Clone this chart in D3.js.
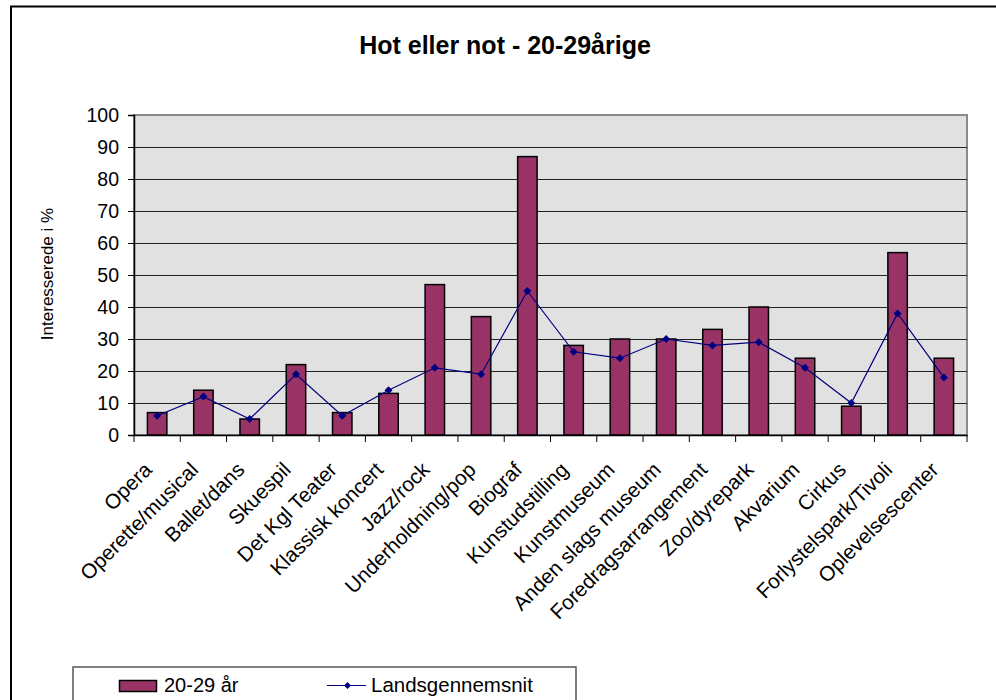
<!DOCTYPE html>
<html>
<head>
<meta charset="utf-8">
<script src="https://cdn.jsdelivr.net/npm/d3@7"></script>
<style>
  html, body { margin: 0; padding: 0; background: #fff; }
  svg { display: block; font-family: "Liberation Sans", Arial, sans-serif; }
</style>
</head>
<body>
<svg id="chart" width="996" height="700"></svg>
<script>
const categories = ["Opera", "Operette/musical", "Ballet/dans", "Skuespil", "Det Kgl Teater",
  "Klassisk koncert", "Jazz/rock", "Underholdning/pop", "Biograf", "Kunstudstilling",
  "Kunstmuseum", "Anden slags museum", "Foredragsarrangement", "Zoo/dyrepark", "Akvarium",
  "Cirkus", "Forlystelspark/Tivoli", "Oplevelsescenter"];
const ageGroupValues = [7, 14, 5, 22, 7, 13, 47, 37, 87, 28, 30, 30, 33, 40, 24, 9, 57, 24];
const nationalAverage = [6, 12, 5, 19, 6, 14, 21, 19, 45, 26, 24, 30, 28, 29, 21, 10, 38, 18];
const yTicks = [0, 10, 20, 30, 40, 50, 60, 70, 80, 90, 100];
const seriesNames = ["20-29 år", "Landsgennemsnit"];
const titleText = "Hot eller not - 20-29årige";
const yAxisTitle = "Interesserede i %";

const svg = d3.select("#chart");
const plot = { left: 134, top: 115, right: 967, bottom: 435 };

// outer chart border
svg.append("rect").attr("x", 11).attr("y", 6.5).attr("width", 1000).attr("height", 800)
  .attr("fill", "#fff").attr("stroke", "#000").attr("stroke-width", 2);

const x = d3.scaleBand().domain(categories).range([plot.left, plot.right]).padding(0);
const y = d3.scaleLinear().domain([0, 100]).range([plot.bottom, plot.top]);

// plot area
svg.append("rect").attr("x", plot.left).attr("y", plot.top)
  .attr("width", plot.right - plot.left).attr("height", plot.bottom - plot.top)
  .attr("fill", "#e1e1e1").attr("stroke", "#8a8a8a").attr("stroke-width", 2);

// gridlines
svg.append("g").selectAll("line").data(yTicks.filter(d => d > 0 && d < 100)).join("line")
  .attr("x1", plot.left).attr("x2", plot.right)
  .attr("y1", d => Math.round(y(d)) + 0.5).attr("y2", d => Math.round(y(d)) + 0.5)
  .attr("stroke", "#222").attr("stroke-width", 1);

// y axis
const yAxis = d3.axisLeft(y).tickValues(yTicks).tickSize(6).tickPadding(9);
const gy = svg.append("g").attr("transform", `translate(${plot.left},0)`).call(yAxis);
gy.select(".domain").attr("stroke", "#000").attr("stroke-width", 1.5);
gy.selectAll(".tick line").attr("stroke", "#000");
gy.selectAll(".tick text").attr("font-size", 19.5).attr("fill", "#000")
  .attr("font-family", "Liberation Sans, Arial, sans-serif");

// bars
const barW = x.bandwidth() * 0.42;
svg.append("g").selectAll("rect").data(categories).join("rect")
  .attr("x", d => x(d) + x.bandwidth() / 2 - barW / 2)
  .attr("y", (d, i) => y(ageGroupValues[i]))
  .attr("width", barW)
  .attr("height", (d, i) => y(0) - y(ageGroupValues[i]))
  .attr("fill", "#993366").attr("stroke", "#000").attr("stroke-width", 1.5);

// x axis
const xAxis = d3.axisBottom(x).tickSize(0).tickFormat("");
const gx = svg.append("g").attr("transform", `translate(0,${plot.bottom})`).call(xAxis);
gx.select(".domain").attr("stroke", "#000").attr("stroke-width", 1.5);
// band-boundary tick marks
const boundaries = categories.map(c => x(c)).concat([x(categories[categories.length - 1]) + x.bandwidth()]);
svg.append("g").selectAll("line").data(boundaries).join("line")
  .attr("x1", d => d).attr("x2", d => d)
  .attr("y1", plot.bottom).attr("y2", plot.bottom + 7)
  .attr("stroke", "#000").attr("stroke-width", 1);

// category labels
svg.append("g").selectAll("text").data(categories).join("text")
  .attr("transform", d => `translate(${x(d) + x.bandwidth() / 2 - 4},${plot.bottom + 36}) rotate(-45)`)
  .attr("text-anchor", "end")
  .attr("font-size", 20.7)
  .attr("fill", "#000")
  .text(d => d);

// line series
const line = d3.line().x(d => x(d.c) + x.bandwidth() / 2).y(d => y(d.v));
const linePts = categories.map((c, i) => ({ c, v: nationalAverage[i] }));
svg.append("path").datum(linePts).attr("d", line)
  .attr("fill", "none").attr("stroke", "#000080").attr("stroke-width", 1.2);
const diamondPath = "M0,-4L4,0L0,4L-4,0Z";
svg.append("g").selectAll("path").data(linePts).join("path")
  .attr("transform", d => `translate(${x(d.c) + x.bandwidth() / 2},${y(d.v)})`)
  .attr("d", diamondPath).attr("fill", "#000080");

// title
svg.append("text").attr("x", 505).attr("y", 54).attr("text-anchor", "middle")
  .attr("font-size", 25).attr("font-weight", "bold").attr("fill", "#000").text(titleText);

// y axis title
svg.append("text").attr("transform", "translate(53,274) rotate(-90)")
  .attr("text-anchor", "middle").attr("font-size", 17).attr("fill", "#000").text(yAxisTitle);

// legend
const lg = svg.append("g");
lg.append("rect").attr("x", 73).attr("y", 667).attr("width", 503).attr("height", 60)
  .attr("fill", "#fff").attr("stroke", "#555").attr("stroke-width", 1.5);
lg.append("rect").attr("x", 119.5).attr("y", 680.5).attr("width", 37).attr("height", 11)
  .attr("fill", "#993366").attr("stroke", "#000").attr("stroke-width", 1.5);
lg.append("text").attr("x", 164).attr("y", 692).attr("font-size", 20).attr("fill", "#000").text(seriesNames[0]);
lg.append("line").attr("x1", 327).attr("x2", 366).attr("y1", 685.5).attr("y2", 685.5)
  .attr("stroke", "#000080").attr("stroke-width", 1.2);
lg.append("path").attr("transform", "translate(347.5,685.5)").attr("d", "M0,-3.5L3.5,0L0,3.5L-3.5,0Z").attr("fill", "#000080");
lg.append("text").attr("x", 371).attr("y", 692).attr("font-size", 20.5).attr("fill", "#000").text(seriesNames[1]);
</script>
</body>
</html>
